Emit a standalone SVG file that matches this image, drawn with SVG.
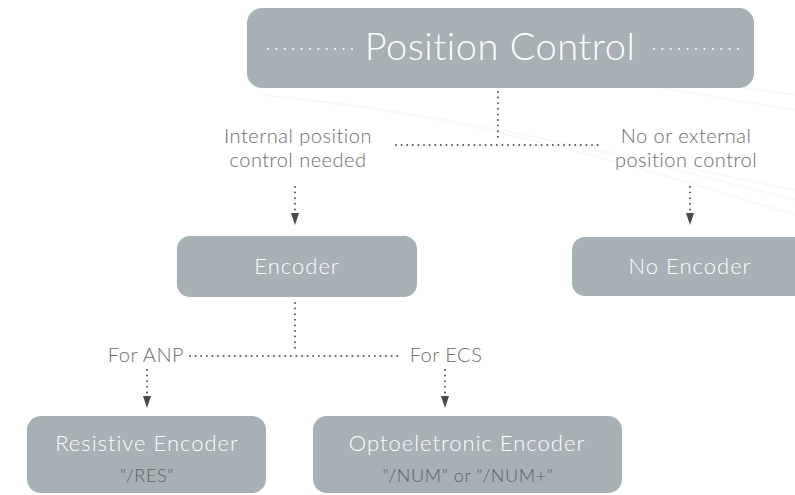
<svg xmlns="http://www.w3.org/2000/svg" width="795" height="495" viewBox="0 0 795 495">
<defs>
<style>
.box{fill:#a6b0b5;}
.t{font-family:Lato,"Open Sans","Liberation Sans",sans-serif;font-weight:300;}
.wt{fill:#ffffff;text-anchor:middle;font-size:22px;letter-spacing:1px;}
.gt{fill:#6b6b6b;text-anchor:middle;font-size:20px;letter-spacing:0.5px;}
.sub{fill:#5a5f62;text-anchor:middle;font-size:18px;letter-spacing:0.6px;}
.dot{stroke:#555;stroke-width:2;stroke-linecap:round;stroke-dasharray:0 5.6;fill:none;}
.wdot{stroke:#ffffff;stroke-width:2;stroke-linecap:round;stroke-dasharray:0 8.4;fill:none;}
.ah{fill:#4a4a4a;}
.bg{stroke:#f5f6f7;stroke-width:1.2;fill:none;}
</style>
</defs>
<rect width="795" height="495" fill="#ffffff"/>
<g id="background">
<path class="bg" d="M240,20 C420,40 600,80 795,110"/>
<path class="bg" d="M260,95 C450,110 640,160 795,200"/>
<path class="bg" d="M300,100 C480,118 650,170 795,215"/>
<path class="bg" d="M560,60 C650,70 720,85 795,95"/>
<path class="bg" d="M600,150 C680,165 740,180 795,190"/>
</g>
<g id="connectors">
<line class="dot" x1="498" y1="92" x2="498" y2="138"/>
<line class="dot" x1="396" y1="145" x2="602" y2="145"/>
<line class="dot" x1="295" y1="187" x2="295" y2="210"/>
<path class="ah" d="M291,213 L299,213 L295,225 Z"/>
<line class="dot" x1="690" y1="187" x2="690" y2="210"/>
<path class="ah" d="M686,213 L694,213 L690,225 Z"/>
<line class="dot" x1="295" y1="303" x2="295" y2="350"/>
<line class="dot" x1="190" y1="356" x2="398" y2="356"/>
<line class="dot" x1="147" y1="370" x2="147" y2="393"/>
<path class="ah" d="M143,396 L151,396 L147,408 Z"/>
<line class="dot" x1="445" y1="370" x2="445" y2="393"/>
<path class="ah" d="M441,396 L449,396 L445,408 Z"/>
<text class="t gt" x="298" y="143">Internal position</text>
<text class="t gt" x="298" y="167">control needed</text>
<text class="t gt" x="686" y="143">No or external</text>
<text class="t gt" x="686" y="167">position control</text>
<text class="t gt" x="146" y="362">For ANP</text>
<text class="t gt" x="446" y="362">For ECS</text>
</g>
<g id="position-control">
<rect class="box" x="247" y="8" width="507" height="80" rx="15"/>
<line class="wdot" x1="268" y1="49" x2="352" y2="49"/>
<line class="wdot" x1="654" y1="49" x2="738" y2="49"/>
<text class="t" x="500" y="60" font-size="38" fill="#ffffff" text-anchor="middle" letter-spacing="0.5">Position Control</text>
</g>
<g id="encoder">
<rect class="box" x="177" y="236" width="240" height="61" rx="13"/>
<text class="t wt" x="297" y="274">Encoder</text>
</g>
<g id="no-encoder">
<rect class="box" x="572" y="237" width="240" height="59" rx="13"/>
<text class="t wt" x="690" y="274">No Encoder</text>
</g>
<g id="resistive-encoder">
<rect class="box" x="27" y="416" width="239" height="77" rx="14"/>
<text class="t wt" x="147" y="451">Resistive Encoder</text>
<text class="t sub" x="147" y="482">"/RES"</text>
</g>
<g id="optoelectronic-encoder">
<rect class="box" x="313" y="416" width="309" height="77" rx="14"/>
<text class="t wt" x="467" y="451">Optoeletronic Encoder</text>
<text class="t sub" x="468" y="482">"/NUM" or "/NUM+"</text>
</g>
</svg>
